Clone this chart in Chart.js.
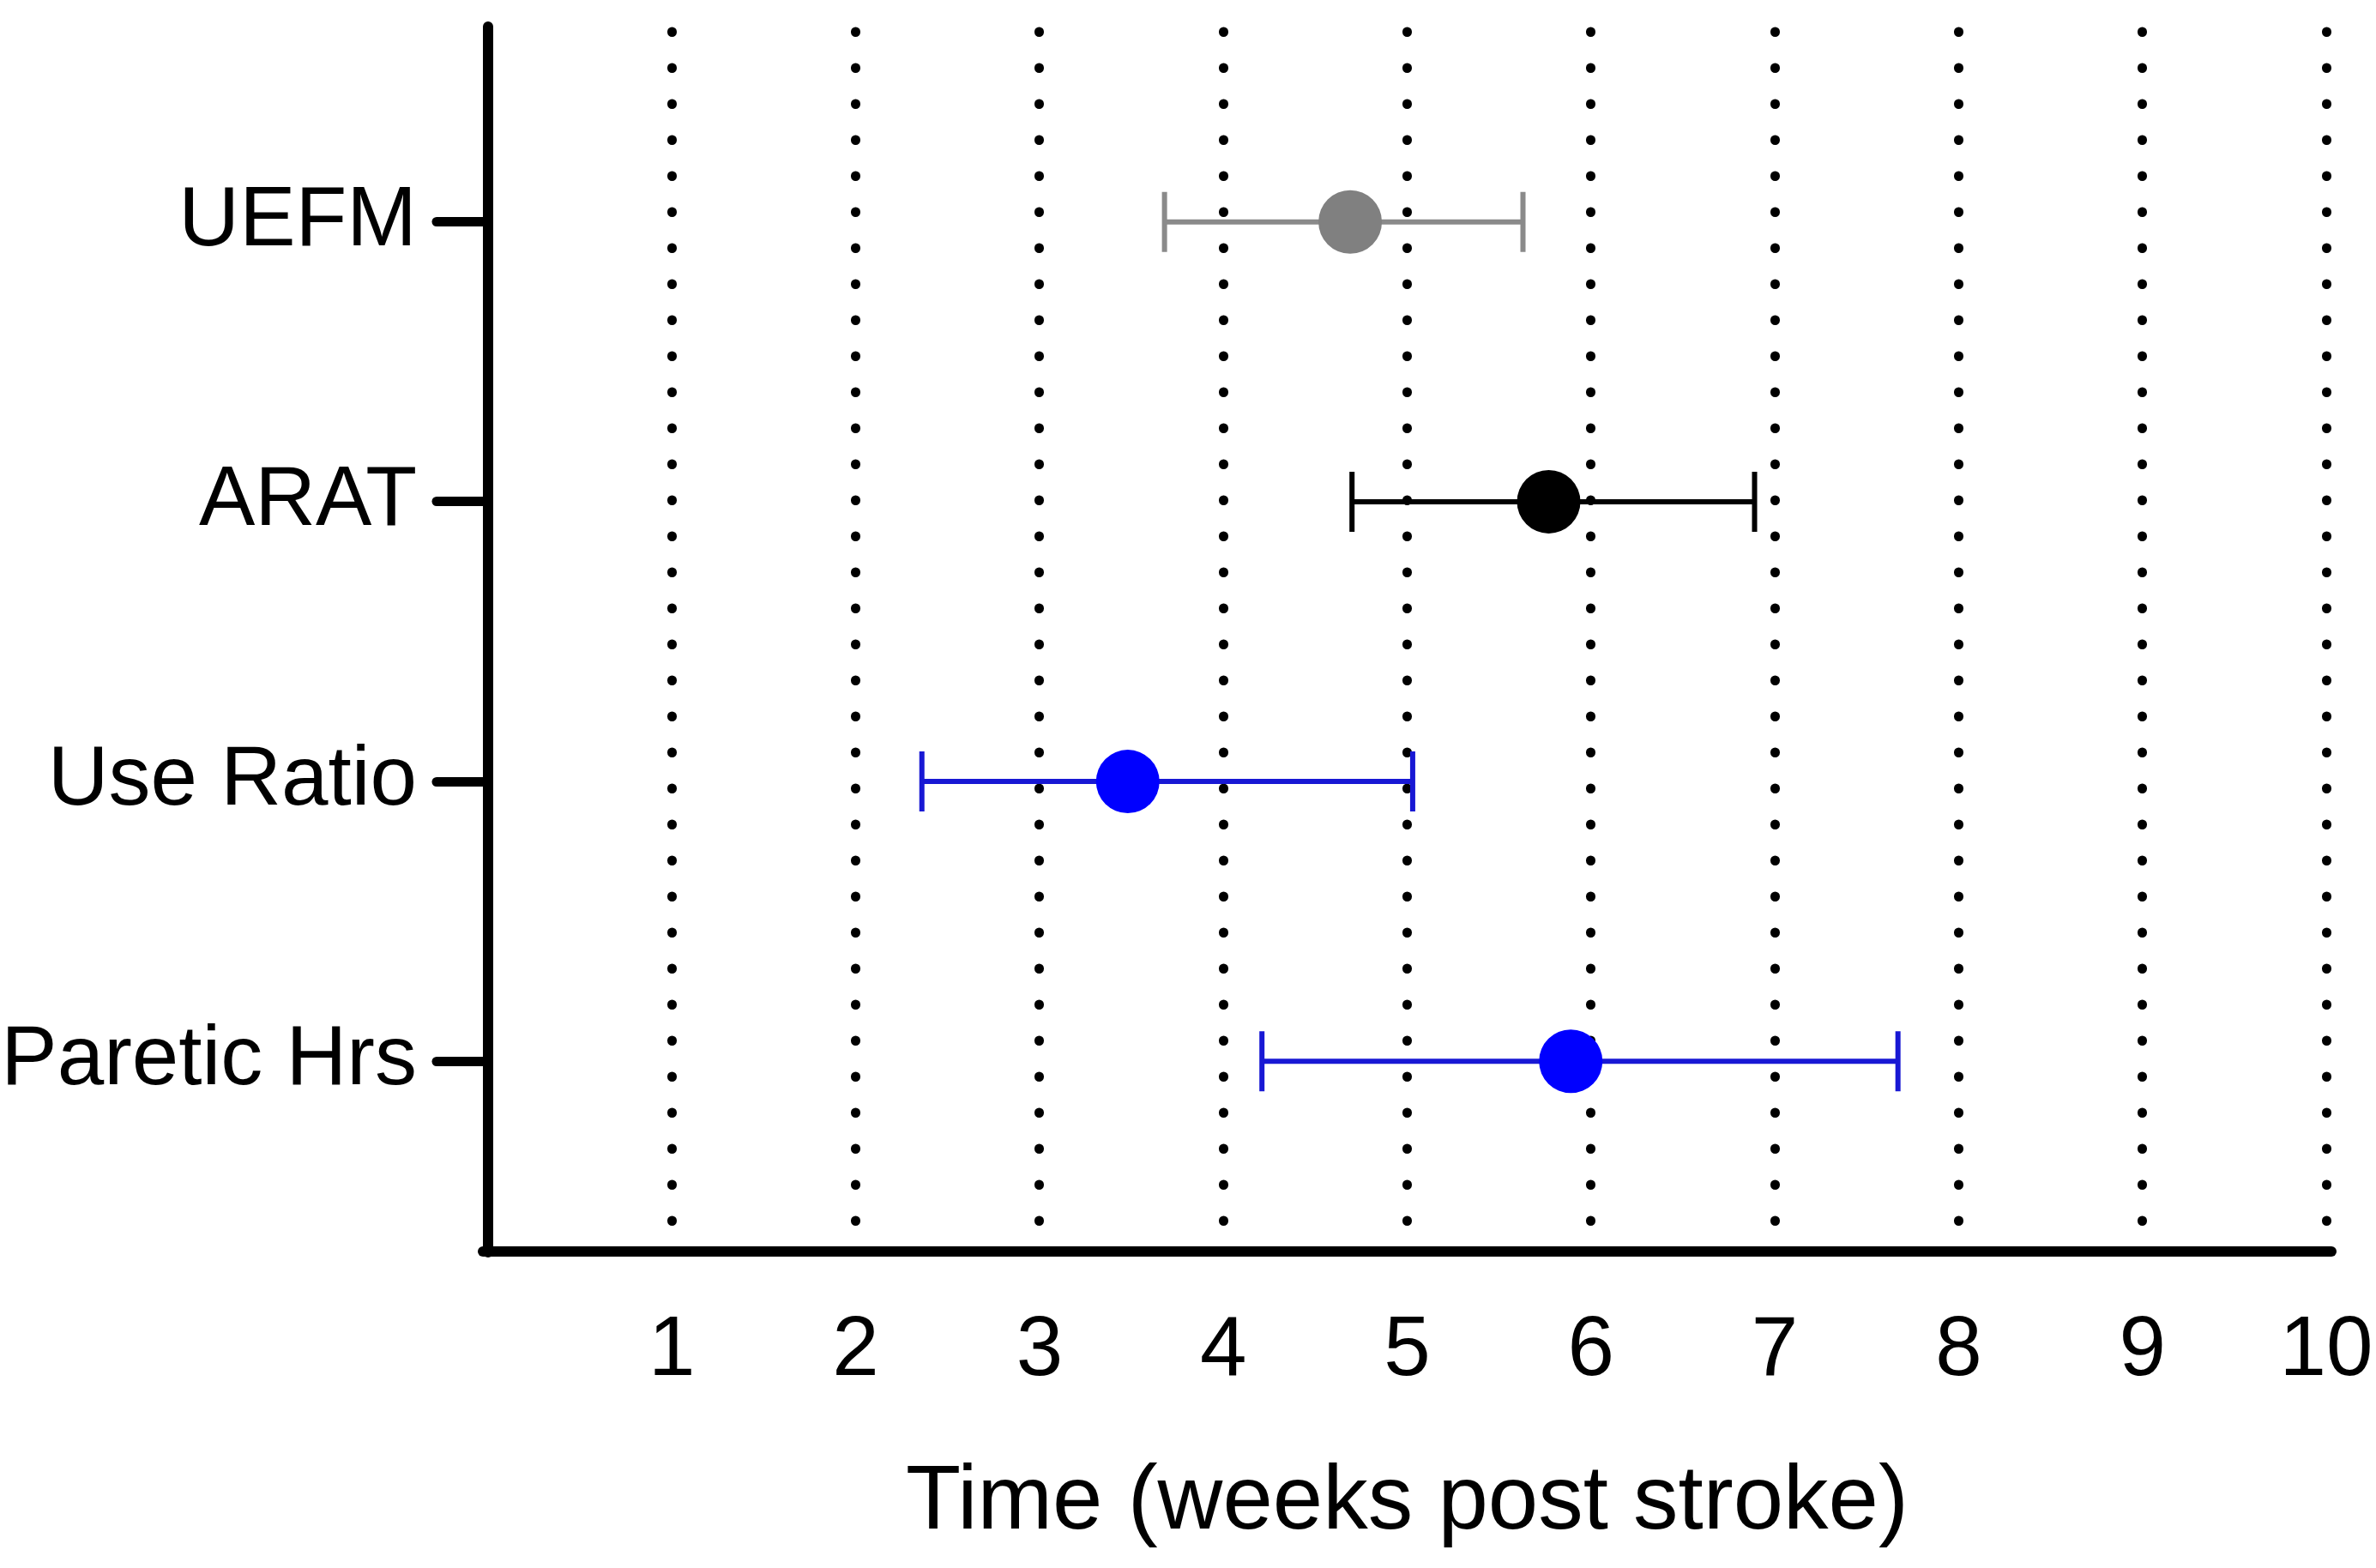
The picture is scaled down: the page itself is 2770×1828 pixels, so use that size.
<!DOCTYPE html>
<html>
<head>
<meta charset="utf-8">
<title>Time to recovery plateau</title>
<script src="https://cdn.jsdelivr.net/npm/chart.js@4.4.1/dist/chart.umd.min.js"></script>
<style>
  html, body { margin: 0; padding: 0; background: #fff; }
  #wrap { width: 2770px; height: 1828px; }
</style>
</head>
<body>
<div id="wrap"><canvas id="chart" width="2770" height="1828"></canvas></div>
<script>
// outcome measures, top to bottom
const measures = ['UEFM', 'ARAT', 'Use Ratio', 'Paretic Hrs'];
// weeks post stroke: mean and error bar ends
const meanWeeks = [4.69, 5.77, 3.48, 5.89];
const lowerWeeks = [3.68, 4.70, 2.36, 4.21];
const upperWeeks = [5.63, 6.89, 5.03, 7.67];

const pointColors = ['#808080', '#000000', '#0000ff', '#0000ff'];
const barColors = ['#8a8a8a', '#000000', '#1818d4', '#1818d4'];

const fontFamily = "'Liberation Sans', Arial, Helvetica, sans-serif";

// dotted grid lines need round caps
const roundDots = {
    id: 'roundDots',
    beforeDraw(chart) {
        chart.ctx.lineCap = 'round';
    },
    beforeDatasetsDraw(chart) {
        chart.ctx.lineCap = 'butt';
    }
};

// horizontal error bars with end caps, drawn under the points
const errorBars = {
    id: 'errorBars',
    beforeDatasetsDraw(chart) {
        const { ctx, scales: { x, y } } = chart;
        ctx.save();
        ctx.lineCap = 'butt';
        measures.forEach((m, i) => {
            const yy = y.getPixelForValue(i);
            const x1 = x.getPixelForValue(lowerWeeks[i]);
            const x2 = x.getPixelForValue(upperWeeks[i]);
            ctx.strokeStyle = barColors[i];
            ctx.lineWidth = 6;
            ctx.beginPath();
            ctx.moveTo(x1, yy);
            ctx.lineTo(x2, yy);
            ctx.stroke();
            ctx.beginPath();
            ctx.moveTo(x1, yy - 35);
            ctx.lineTo(x1, yy + 35);
            ctx.moveTo(x2, yy - 35);
            ctx.lineTo(x2, yy + 35);
            ctx.stroke();
        });
        ctx.restore();
    }
};

const ctx = document.getElementById('chart').getContext('2d');

new Chart(ctx, {
    type: 'scatter',
    data: {
        datasets: [{
            label: 'Mean',
            data: measures.map((m, i) => ({ x: meanWeeks[i], y: i })),
            pointRadius: 37,
            pointHoverRadius: 37,
            pointBorderWidth: 0,
            pointBackgroundColor: pointColors,
            pointBorderColor: pointColors
        }]
    },
    options: {
        responsive: false,
        animation: false,
        devicePixelRatio: 1,
        layout: {
            padding: { left: 0, right: 58, top: 25, bottom: 0 }
        },
        plugins: {
            legend: { display: false },
            tooltip: { enabled: false }
        },
        scales: {
            x: {
                type: 'linear',
                min: 0,
                max: 10,
                afterFit: s => {
                    s.height = 369;
                    s.paddingLeft = 0;
                    s.paddingRight = 0;
                },
                ticks: {
                    stepSize: 1,
                    autoSkip: false,
                    maxRotation: 0,
                    padding: 58,
                    color: '#000',
                    font: { family: fontFamily, size: 98 },
                    callback: v => v === 0 ? '' : v
                },
                grid: {
                    color: c => (c.tick && c.tick.value === 0) ? 'rgba(0,0,0,0)' : '#000',
                    lineWidth: 11,
                    drawTicks: false
                },
                border: {
                    display: true,
                    color: '#000',
                    width: 12,
                    dash: [0.5, 41.5]
                },
                title: {
                    display: true,
                    text: 'Time (weeks post stroke)',
                    color: '#000',
                    font: { family: fontFamily, size: 105 },
                    padding: { top: 0, bottom: 12 }
                }
            },
            y: {
                type: 'linear',
                reverse: true,
                min: -0.68,
                max: 3.68,
                afterFit: s => {
                    s.width = 569;
                    s.paddingTop = 0;
                    s.paddingBottom = 0;
                },
                afterBuildTicks: s => {
                    s.ticks = measures.map((m, i) => ({ value: i }));
                },
                ticks: {
                    padding: 23,
                    color: '#000',
                    font: { family: fontFamily, size: 98 },
                    callback: v => measures[v]
                },
                grid: {
                    drawOnChartArea: false,
                    drawTicks: true,
                    tickLength: 60,
                    tickWidth: 11,
                    tickColor: '#000',
                    color: '#000'
                },
                border: {
                    display: true,
                    color: '#000',
                    width: 12
                }
            }
        }
    },
    plugins: [roundDots, errorBars]
});
</script>
</body>
</html>
